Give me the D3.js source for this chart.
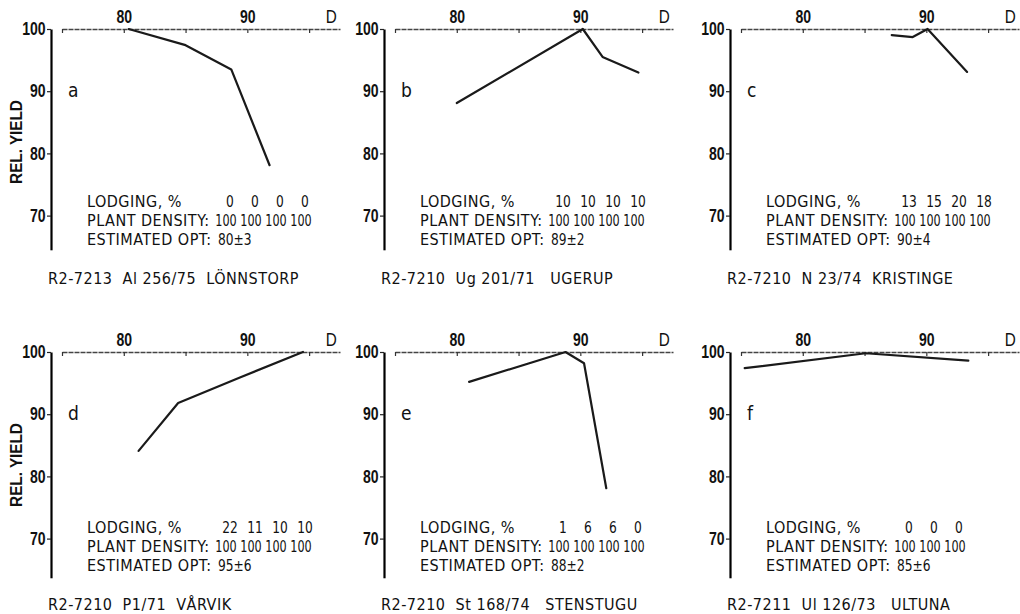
<!DOCTYPE html>
<html><head><meta charset="utf-8">
<script src="https://cdn.jsdelivr.net/npm/d3@7"></script>
<style>html,body{margin:0;padding:0;background:#fff;} svg{display:block}</style>
</head><body>
<svg id="chart" width="1020" height="614"></svg>
<script>
// ---- data ----
const panelLetters = ["a", "b", "c", "d", "e", "f"];
const densityA = [80.4, 85.0, 88.7, 91.8];
const yieldA   = [100, 97.4, 93.5, 78.1];
const densityB = [80.0, 90.2, 91.8, 94.7];
const yieldB   = [88.1, 100, 95.5, 93.0];
const densityC = [87.2, 88.9, 90.1, 93.3];
const yieldC   = [99.0, 98.7, 100, 93.1];
const densityD = [81.2, 84.4, 89.4, 94.5];
const yieldD   = [84.1, 91.8, 95.9, 100];
const densityE = [81.0, 88.8, 90.3, 92.1];
const yieldE   = [95.2, 100, 98.2, 78.1];
const densityF = [75.3, 85.1, 93.4];
const yieldF   = [97.4, 99.8, 98.6];
const lodgingPct = [["0","0","0","0"], ["10","10","10","10"], ["13","15","20","18"],
                    ["22","11","10","10"], ["1","6","6","0"], ["0","0","0"]];
const plantDensity = [[100,100,100,100], [100,100,100,100], [100,100,100,100],
                      [100,100,100,100], [100,100,100,100], [100,100,100]];
const estimatedOpt = ["80±3", "89±2", "90±4", "95±6", "88±2", "85±6"];
const captions = ["R2-7213  Al 256/75  LÖNNSTORP", "R2-7210  Ug 201/71   UGERUP",
                  "R2-7210  N 23/74  KRISTINGE", "R2-7210  P1/71  VÅRVIK",
                  "R2-7210  St 168/74   STENSTUGU", "R2-7211  Ul 126/73   ULTUNA"];
const xTickValues = [75, 80, 85, 90, 95];
const xTickLabels = [80, 90];
const yTickValues = [70, 80, 90, 100];
const xEndLabel = "D";
const yAxisTitle = "REL. YIELD";
const rowLabels = ["LODGING, %", "PLANT DENSITY:", "ESTIMATED OPT:"];

const seriesX = [densityA, densityB, densityC, densityD, densityE, densityF];
const seriesY = [yieldA, yieldB, yieldC, yieldD, yieldE, yieldF];

// ---- layout ----
const BODY = "'DejaVu Sans Condensed','DejaVu Sans',sans-serif";
const NUM = "'Liberation Sans',Arial,sans-serif";
const colX = [51, 384, 730];
const rowTop = [29, 352];
const rowBottom = [64.5, 63.7];
const rowLines = [[178, 197, 216, 255], [181, 200, 219, 258]];
const PX = 6.22;
const svg = d3.select("#chart");

function addText(parent, x, y, str, sx, opts) {
  const t = parent.append("text")
    .attr("transform", `translate(${x},${y}) scale(${sx},1)`)
    .attr("font-family", opts.font || BODY).attr("font-size", opts.size || 16)
    .attr("fill", "#111").text(str);
  if (opts.anchor) t.attr("text-anchor", opts.anchor);
  if (opts.weight) t.attr("font-weight", opts.weight);
  if (opts.ls) t.style("letter-spacing", opts.ls);
  if (opts.pre) t.style("white-space", "pre");
  return t;
}

panelLetters.forEach((letter, i) => {
  const row = Math.floor(i / 3);
  const ax = colX[i % 3], top = rowTop[row], lo = rowBottom[row], L = rowLines[row];
  const x = d3.scaleLinear().domain([75, 97.5]).range([ax + 11, ax + 289]);
  const y = d3.scaleLinear().domain([lo, 100]).range([top + (100 - lo) * PX, top]);
  const g = svg.append("g");

  // top (density) axis
  const xa = g.append("g").attr("transform", `translate(0,${top})`)
    .call(d3.axisTop(x).tickValues(xTickValues).tickSize(-4).tickSizeOuter(0).tickPadding(6)
      .tickFormat(d => xTickLabels.includes(d) ? d : ""));
  xa.attr("font-family", null).attr("font-size", null);
  xa.select(".domain").attr("stroke", "#444").attr("stroke-width", 1.4).attr("stroke-dasharray", "5 1");
  xa.selectAll(".tick line").attr("stroke", "#333").attr("stroke-width", 1.2);
  xa.selectAll(".tick text").attr("font-family", NUM).attr("font-size", 18)
    .attr("font-weight", "bold").attr("fill", "#111").attr("transform", "scale(0.78,1)");
  addText(g, x(96.8), top - 6, xEndLabel, 0.85, {font: NUM, size: 18, anchor: "middle"});

  // left (yield) axis
  const ya = g.append("g").attr("transform", `translate(${ax},0)`)
    .call(d3.axisLeft(y).tickValues(yTickValues).tickSize(4).tickSizeOuter(0).tickPadding(3));
  ya.attr("font-family", null).attr("font-size", null);
  ya.select(".domain").attr("stroke", "#000").attr("stroke-width", 2.2);
  ya.selectAll(".tick line").attr("stroke", "#222").attr("stroke-width", 1.2);
  ya.selectAll(".tick text").attr("font-family", NUM).attr("font-size", 18)
    .attr("font-weight", "bold").attr("fill", "#111").attr("transform", "scale(0.78,1)");

  if (i % 3 === 0) {
    g.append("text").attr("transform", `translate(${ax - 29},${top + 113}) rotate(-90) scale(0.9,1)`)
      .attr("text-anchor", "middle").attr("font-family", NUM).attr("font-size", 17)
      .attr("font-weight", "bold").attr("fill", "#111").text(yAxisTitle);
  }

  // panel letter
  addText(g, ax + 17, y(90) + 6, letter, 1, {font: BODY, size: 19});

  // data line
  const pts = seriesX[i].map((d, k) => [d, seriesY[i][k]]);
  g.append("path").datum(pts)
    .attr("d", d3.line().x(d => x(d[0])).y(d => y(d[1])))
    .attr("fill", "none").attr("stroke", "#1a1a1a").attr("stroke-width", 2.2)
    .attr("stroke-linejoin", "round").attr("stroke-linecap", "round");

  // text block
  const tx = ax + 36;
  rowLabels.forEach((lab, r) => addText(g, tx, top + L[r], lab, 1, {ls: "0.5px"}));
  lodgingPct[i].forEach((v, k) => addText(g, tx + 143 + k * 25, top + L[0], v, 0.85, {anchor: "middle"}));
  plantDensity[i].forEach((v, k) => addText(g, tx + 139 + k * 25, top + L[1], v, 0.78, {anchor: "middle"}));
  addText(g, tx + 131, top + L[2], estimatedOpt[i], 0.85, {});

  // caption
  addText(g, ax - 3, top + L[3], captions[i], 1, {pre: true, ls: "0.5px"});
});
</script>
</body></html>
